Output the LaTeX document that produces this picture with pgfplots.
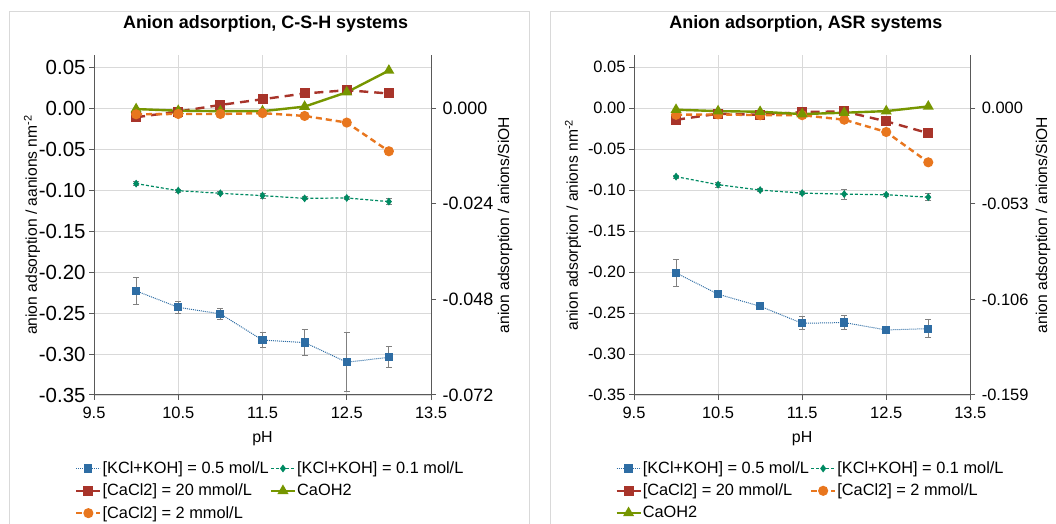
\documentclass[border=0pt]{standalone}
\usepackage{fontspec}
\setmainfont{Liberation Sans}
\usepackage{pgfplots}
\usepackage{pgfplotstable}
\pgfplotsset{compat=1.18}

\definecolor{cBlue}{RGB}{46,109,164}
\definecolor{cGreen}{RGB}{0,138,98}
\definecolor{cRed}{RGB}{168,52,42}
\definecolor{cOrange}{RGB}{232,118,30}
\definecolor{cOlive}{RGB}{118,150,0}
\definecolor{cGrid}{RGB}{217,217,217}
\definecolor{cAxis}{RGB}{89,89,89}
\definecolor{cErr}{RGB}{128,128,128}
\definecolor{cFrame}{RGB}{217,217,217}

% pH, [KCl+KOH]=0.5 (b, be), [KCl+KOH]=0.1 (g, ge), [CaCl2]=20 (r), [CaCl2]=2 (o), CaOH2 (l)
\pgfplotstableread{
pH    b       be      g        ge     r        o        l
10    -0.223  0.016   -0.092   0.002  -0.011   -0.0074  -0.001
10.5  -0.243  0.0075  -0.1006  0.002  -0.004   -0.007   -0.003
11    -0.251  0.0067  -0.1038  0.002   0.004   -0.007   -0.0036
11.5  -0.283  0.0087  -0.1067  0.003   0.011   -0.006   -0.0036
12    -0.286  0.016   -0.110   0.002   0.018   -0.0094   0.002
12.5  -0.310  0.036   -0.1095  0.002   0.022   -0.0175   0.0195
13    -0.304  0.0128  -0.114   0.004   0.018   -0.0525   0.046
}\csh

\pgfplotstableread{
pH    b        be      g        ge     r        o        l
10    -0.201   0.016   -0.0835  0.002  -0.0141  -0.008   -0.0018
10.5  -0.227   0.003   -0.0933  0.003  -0.0067  -0.0075  -0.0035
11    -0.2417  0.003   -0.0999  0.002  -0.008   -0.0085  -0.0043
11.5  -0.2625  0.008   -0.1036  0.002  -0.0047  -0.0085  -0.0071
12    -0.2616  0.009   -0.1048  0.006  -0.0039  -0.014   -0.0055
12.5  -0.2706  0.003   -0.1056  0.002  -0.016   -0.029   -0.0035
13    -0.269   0.0106  -0.1085  0.004  -0.0304  -0.066    0.0022
}\asr

\pgfplotsset{
  panel/.style={
    scale only axis, width=337bp, height=340bp, anchor=south west,
    xmin=9.5, xmax=13.5,
    scaled y ticks=false,
    tick label style={font=\fontsize{16.5}{19}\selectfont},
    label style={font=\fontsize{15.7}{18}\selectfont},
    axis line style={cAxis, line width=1bp},
    tick style={cAxis, line width=1bp},
    major tick length=5bp, tick align=outside,
  },
  primary/.style={
    panel,
    ymin=-0.35, ymax=0.065,
    axis x line*=bottom, axis y line*=left,
    xtick={9.5,10.5,11.5,12.5,13.5},
    xticklabels={9.5,10.5,11.5,12.5,13.5},
    xticklabel style={yshift=-4bp},
    ytick={-0.35,-0.30,-0.25,-0.20,-0.15,-0.10,-0.05,0,0.05},
    yticklabels={-0.35,-0.30,-0.25,-0.20,-0.15,-0.10,-0.05,0.00,0.05},
    grid=major, grid style={cGrid, line width=0.9bp},
    xlabel={pH},
    xlabel style={at={(axis description cs:0.5,-0.128)}, anchor=center, font=\fontsize{16}{19}\selectfont},
    title style={font=\bfseries\fontsize{18}{21}\selectfont, anchor=center},
    legend columns=2,
    legend cell align=left,
    legend style={draw=none, fill=none, inner sep=0pt, anchor=north west,
      font=\fontsize{16.4}{19}\selectfont, row sep=7bp,
      nodes={inner xsep=1bp, inner ysep=1bp}},
    legend image code/.code={\draw[mark repeat=2,mark phase=2,#1]
      plot coordinates {(0bp,0bp) (12bp,0bp) (24bp,0bp)};},
    error bars/error bar style={cErr, line width=1bp, solid},
    error bars/error mark options={cErr, rotate=90, mark size=3bp, line width=1bp, solid},
  },
  secondary/.style={
    panel,
    axis y line*=right, axis x line=none,
    yticklabel style={anchor=west, xshift=3bp},
  },
  sBlue/.style={cBlue, line width=1bp, dash pattern=on 1bp off 1bp,
    mark=square*, mark size=3.6bp, mark options={solid}},
  sGreen/.style={cGreen, line width=1.2bp, dash pattern=on 3bp off 2bp,
    mark=diamond*, mark size=3bp, mark options={solid}},
  sRed/.style={cRed, line width=2.4bp, dash pattern=on 9bp off 6bp,
    mark=square*, mark size=3.8bp, mark options={solid}},
  sOrange/.style={cOrange, line width=2.4bp, dash pattern=on 6bp off 4bp,
    mark=*, mark size=3.8bp, mark options={solid}},
  sOlive/.style={cOlive, line width=2.4bp,
    mark=triangle*, mark size=4bp, mark options={solid}},
}

\begin{document}
\begin{tikzpicture}[x=1bp,y=1bp]
\useasboundingbox (0,0) rectangle (1056,524);
% chart area frames
\draw[cFrame, line width=1bp] (9.5,-10) rectangle (529,512.5);
\draw[cFrame, line width=1bp] (550,-10) rectangle (1080,512);

% ---------- C-S-H systems ----------
\begin{axis}[primary, at={(94bp,129bp)},
  yticklabel style={font=\fontsize{20.5}{23}\selectfont},
  title={Anion adsorption, C-S-H systems},
  title style={at={(axis description cs:0.509,1.0735)}},
  ylabel={anion adsorption / aanions nm\textsuperscript{-2}},
  ylabel style={at={(axis description cs:-0.184,0.5)}, anchor=center},
  legend style={at={(axis description cs:-0.0564,-0.193)}},
]
\addplot[sBlue, error bars/.cd, y dir=both, y explicit]
  table[x=pH, y=b, y error=be] {\csh};
\addlegendentry{[KCl+KOH] = 0.5 mol/L}
\addplot[sGreen, error bars/.cd, y dir=both, y explicit]
  table[x=pH, y=g, y error=ge] {\csh};
\addlegendentry{[KCl+KOH] = 0.1 mol/L}
\addplot[sRed] table[x=pH, y=r] {\csh};
\addlegendentry{[CaCl2] = 20 mmol/L}
\addplot[sOlive] table[x=pH, y=l] {\csh};
\addlegendentry{CaOH2}
\addplot[sOrange] table[x=pH, y=o] {\csh};
\addlegendentry{[CaCl2] = 2 mmol/L}
\end{axis}
\begin{axis}[secondary, at={(94bp,129bp)},
  yticklabel style={font=\fontsize{18}{21}\selectfont},
  ymin=-0.072, ymax=0.01337,
  ytick={-0.072,-0.048,-0.024,0},
  yticklabels={-0.072,-0.048,-0.024,0.000},
  ylabel={anion adsorption / anions/SiOH},
  ylabel style={at={(axis description cs:1.2196,0.5)}, anchor=center, rotate=0},
]
\end{axis}

% ---------- ASR systems ----------
\begin{axis}[primary, at={(634bp,129bp)}, width=336.3bp,
  title={Anion adsorption, ASR systems},
  title style={at={(axis description cs:0.511,1.0735)}},
  ylabel={anion adsorption / anions nm\textsuperscript{-2}},
  ylabel style={at={(axis description cs:-0.181,0.5)}, anchor=center},
  legend style={at={(axis description cs:-0.056,-0.193)}},
]
\addplot[sBlue, error bars/.cd, y dir=both, y explicit]
  table[x=pH, y=b, y error=be] {\asr};
\addlegendentry{[KCl+KOH] = 0.5 mol/L}
\addplot[sGreen, error bars/.cd, y dir=both, y explicit]
  table[x=pH, y=g, y error=ge] {\asr};
\addlegendentry{[KCl+KOH] = 0.1 mol/L}
\addplot[sRed] table[x=pH, y=r] {\asr};
\addlegendentry{[CaCl2] = 20 mmol/L}
\addplot[sOrange] table[x=pH, y=o] {\asr};
\addlegendentry{[CaCl2] = 2 mmol/L}
\addplot[sOlive] table[x=pH, y=l] {\asr};
\addlegendentry{CaOH2}
\end{axis}
\begin{axis}[secondary, at={(634bp,129bp)}, width=336.3bp,
  ymin=-0.159, ymax=0.02953,
  ytick={-0.159,-0.106,-0.053,0},
  yticklabels={-0.159,-0.106,-0.053,0.000},
  ylabel={anion adsorption / anions/SiOH},
  ylabel style={at={(axis description cs:1.216,0.5)}, anchor=center, rotate=0},
]
\end{axis}
\end{tikzpicture}
\end{document}
